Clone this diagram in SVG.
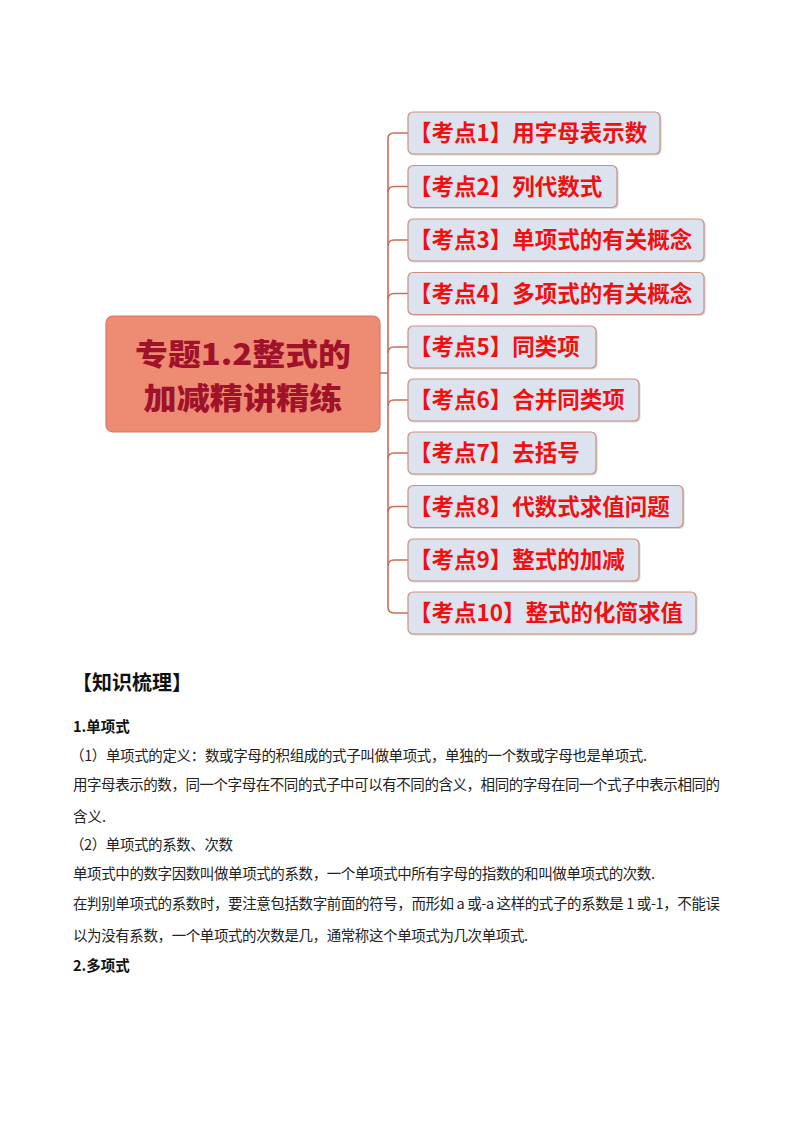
<svg xmlns="http://www.w3.org/2000/svg" width="800" height="1132" viewBox="0 0 800 1132">
<style>
.bg{fill:#ffffff}
.center{fill:#EE8B73;stroke:#DA7660;stroke-width:1.2}
.ctext{font-family:"Noto Sans CJK SC","Noto Sans",sans-serif;font-weight:900;font-size:30px;fill:#A0122A;text-anchor:middle}
.box{fill:#DCE3EE;stroke:#C98F82;stroke-width:1.2}
.shadow{fill:#B8B8BC;opacity:0.55}
.btext{font-family:"Noto Sans CJK SC","Noto Sans",sans-serif;font-weight:700;font-size:22.5px;fill:#F01010}
.conn{fill:none;stroke:#C4705A;stroke-width:1.6}
.head{font-family:"Noto Sans CJK SC",sans-serif;font-weight:700;font-size:20px;fill:#111}
.sub{font-family:"Noto Sans CJK SC",sans-serif;font-weight:700;font-size:14.5px;fill:#111}
.body{font-family:"Noto Sans CJK SC",sans-serif;font-weight:400;font-size:14.5px;fill:#222}
</style>
<rect class="bg" x="0" y="0" width="800" height="1132"/>
<g id="connectors">
<path class="conn" d="M380 373 H388"/>
<path class="conn" d="M408 133 H394 Q388 133 388 139 V607 Q388 613 394 613 H408"/>
<path class="conn" d="M408 186.5 H394 Q388 186.5 388 192.5"/>
<path class="conn" d="M408 240 H394 Q388 240 388 246"/>
<path class="conn" d="M408 293.5 H394 Q388 293.5 388 299.5"/>
<path class="conn" d="M408 347 H394 Q388 347 388 353"/>
<path class="conn" d="M408 400 H394 Q388 400 388 406"/>
<path class="conn" d="M408 453 H394 Q388 453 388 459"/>
<path class="conn" d="M408 506.5 H394 Q388 506.5 388 512.5"/>
<path class="conn" d="M408 560 H394 Q388 560 388 566"/>
</g>
<g id="central">
<rect class="center" x="106" y="316" width="274" height="116" rx="7"/>
<text class="ctext" x="243" y="364.5" textLength="216" lengthAdjust="spacingAndGlyphs">专题1.2整式的</text>
<text class="ctext" x="243" y="408.5" textLength="199" lengthAdjust="spacingAndGlyphs">加减精讲精练</text>
</g>
<g id="k1"><rect class="shadow" x="409.5" y="113.5" width="252" height="42" rx="5"/><rect class="box" x="408" y="112" width="252" height="42" rx="5"/><text class="btext" x="409" y="141">【考点1】用字母表示数</text></g>
<g id="k2"><rect class="shadow" x="409.5" y="167" width="209" height="42" rx="5"/><rect class="box" x="408" y="165.5" width="209" height="42" rx="5"/><text class="btext" x="409" y="194.5">【考点2】列代数式</text></g>
<g id="k3"><rect class="shadow" x="409.5" y="220.5" width="296" height="42" rx="5"/><rect class="box" x="408" y="219" width="296" height="42" rx="5"/><text class="btext" x="409" y="248">【考点3】单项式的有关概念</text></g>
<g id="k4"><rect class="shadow" x="409.5" y="274" width="296" height="42" rx="5"/><rect class="box" x="408" y="272.5" width="296" height="42" rx="5"/><text class="btext" x="409" y="301.5">【考点4】多项式的有关概念</text></g>
<g id="k5"><rect class="shadow" x="409.5" y="327.5" width="188" height="42" rx="5"/><rect class="box" x="408" y="326" width="188" height="42" rx="5"/><text class="btext" x="409" y="355">【考点5】同类项</text></g>
<g id="k6"><rect class="shadow" x="409.5" y="380.5" width="231" height="42" rx="5"/><rect class="box" x="408" y="379" width="231" height="42" rx="5"/><text class="btext" x="409" y="408">【考点6】合并同类项</text></g>
<g id="k7"><rect class="shadow" x="409.5" y="433.5" width="188" height="42" rx="5"/><rect class="box" x="408" y="432" width="188" height="42" rx="5"/><text class="btext" x="409" y="461">【考点7】去括号</text></g>
<g id="k8"><rect class="shadow" x="409.5" y="487" width="275" height="42" rx="5"/><rect class="box" x="408" y="485.5" width="275" height="42" rx="5"/><text class="btext" x="409" y="514.5">【考点8】代数式求值问题</text></g>
<g id="k9"><rect class="shadow" x="409.5" y="540.5" width="231" height="42" rx="5"/><rect class="box" x="408" y="539" width="231" height="42" rx="5"/><text class="btext" x="409" y="568">【考点9】整式的加减</text></g>
<g id="k10"><rect class="shadow" x="409.5" y="593.5" width="288" height="42" rx="5"/><rect class="box" x="408" y="592" width="288" height="42" rx="5"/><text class="btext" x="409" y="621">【考点10】整式的化简求值</text></g>
<g id="text">
<text class="head" x="72" y="690">【知识梳理】</text>
<text class="sub" x="73" y="732">1.单项式</text>
<text class="body" x="70" y="761" textLength="577" lengthAdjust="spacing">（1）单项式的定义：数或字母的积组成的式子叫做单项式，单独的一个数或字母也是单项式.</text>
<text class="body" x="73" y="790" textLength="647" lengthAdjust="spacing">用字母表示的数，同一个字母在不同的式子中可以有不同的含义，相同的字母在同一个式子中表示相同的</text>
<text class="body" x="73" y="822">含义.</text>
<text class="body" x="70" y="850" textLength="163" lengthAdjust="spacing">（2）单项式的系数、次数</text>
<text class="body" x="73" y="879" textLength="582" lengthAdjust="spacing">单项式中的数字因数叫做单项式的系数，一个单项式中所有字母的指数的和叫做单项式的次数.</text>
<text class="body" x="73" y="909" textLength="647" lengthAdjust="spacing">在判别单项式的系数时，要注意包括数字前面的符号，而形如 a 或-a 这样的式子的系数是 1 或-1，不能误</text>
<text class="body" x="73" y="941" textLength="455" lengthAdjust="spacing">以为没有系数，一个单项式的次数是几，通常称这个单项式为几次单项式.</text>
<text class="sub" x="73" y="971">2.多项式</text>
</g>
</svg>
